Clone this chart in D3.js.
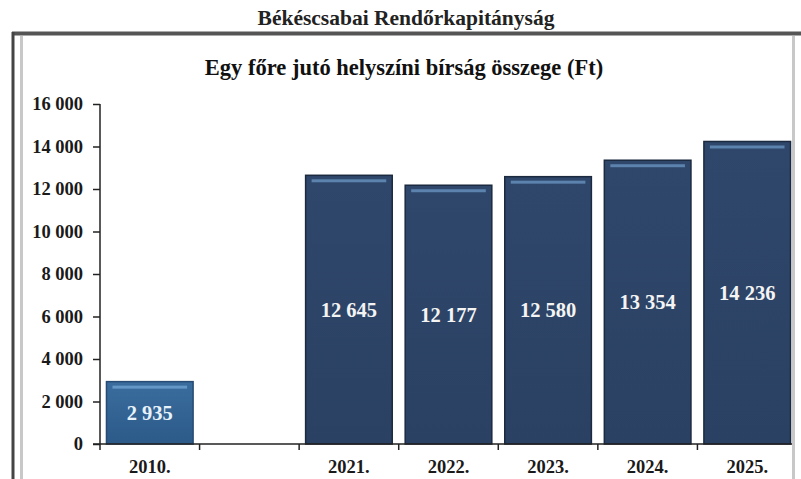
<!DOCTYPE html>
<html><head><meta charset="utf-8">
<script src="https://cdn.jsdelivr.net/npm/d3@7/dist/d3.min.js"></script>
<style>body{margin:0;background:#fff}svg{display:block}text{font-family:"Liberation Serif","Times New Roman",serif;font-weight:bold}</style>
</head><body>
<svg id="c" width="801" height="479"></svg>
<script>
const mainTitle = "Békéscsabai Rendőrkapitányság";
const chartTitle = "Egy főre jutó helyszíni bírság összege (Ft)";
const categories = ["2010.", "", "2021.", "2022.", "2023.", "2024.", "2025."];
const values = [2935, null, 12645, 12177, 12580, 13354, 14236];
const yTicks = [0, 2000, 4000, 6000, 8000, 10000, 12000, 14000, 16000];

const svg = d3.select("#c");
const fmt = v => d3.format(",")(v).replace(/,/g, " ");
const keys = categories.map((c, i) => i);

const x = d3.scaleBand().domain(keys).range([100, 797]).paddingInner(0.13).paddingOuter(0.065);
const y = d3.scaleLinear().domain([0, 16000]).range([444, 104]);

// frame
svg.append("rect").attr("x", 12).attr("y", 31.5).attr("width", 790).attr("height", 4).attr("fill", "#555");
svg.append("rect").attr("x", 11.5).attr("y", 32).attr("width", 3).attr("height", 447).attr("fill", "#444");
svg.append("rect").attr("x", 20).attr("y", 36).attr("width", 3).attr("height", 443).attr("fill", "#c8c8c8");
svg.append("rect").attr("x", 792).attr("y", 36).attr("width", 3).attr("height", 443).attr("fill", "#c8c8c8");

svg.append("text").attr("x", 406).attr("y", 25).attr("text-anchor", "middle").attr("font-size", 21.5).attr("fill", "#222").text(mainTitle);
svg.append("text").attr("x", 404).attr("y", 75).attr("text-anchor", "middle").attr("font-size", 22.5).attr("fill", "#111").text(chartTitle);

const defs = svg.append("defs");
const g1 = defs.append("linearGradient").attr("id", "gOld").attr("x1", 0).attr("x2", 0).attr("y1", 0).attr("y2", 1);
g1.append("stop").attr("offset", 0).attr("stop-color", "#3a6d9e");
g1.append("stop").attr("offset", 1).attr("stop-color", "#2c5a89");
const g2 = defs.append("linearGradient").attr("id", "gNew").attr("x1", 0).attr("x2", 0).attr("y1", 0).attr("y2", 1);
g2.append("stop").attr("offset", 0).attr("stop-color", "#2f476b");
g2.append("stop").attr("offset", 1).attr("stop-color", "#2a4163");

const data = keys.map(i => ({i, cat: categories[i], v: values[i]})).filter(d => d.v != null);

const bars = svg.append("g");
bars.selectAll("rect.bar").data(data).join("rect").attr("class", "bar")
  .attr("x", d => x(d.i)).attr("y", d => y(d.v))
  .attr("width", x.bandwidth()).attr("height", d => y(0) - y(d.v))
  .attr("fill", d => d.i === 0 ? "url(#gOld)" : "url(#gNew)")
  .attr("stroke", d => d.i === 0 ? "#274b73" : "#1c2a40").attr("stroke-width", 1.5);
bars.selectAll("rect.hl").data(data).join("rect").attr("class", "hl")
  .attr("x", d => x(d.i) + 6).attr("y", d => y(d.v) + 4)
  .attr("width", x.bandwidth() - 12).attr("height", 3)
  .attr("fill", d => d.i === 0 ? "#6a9ccb" : "#6189b5").attr("opacity", 0.9);
bars.selectAll("text").data(data).join("text")
  .attr("x", d => x(d.i) + x.bandwidth() / 2)
  .attr("y", d => (y(d.v) + y(0)) / 2 + 7)
  .attr("text-anchor", "middle").attr("font-size", 20.5)
  .attr("fill", d => d.i === 0 ? "#e8f2fa" : "#f4f4f4").text(d => fmt(d.v));

// y axis
const yAxis = d3.axisLeft(y).tickValues(yTicks).tickSize(7).tickPadding(10).tickFormat(fmt);
const ga = svg.append("g").attr("transform", "translate(100,0)").call(yAxis);
ga.select(".domain").attr("stroke", "#222").attr("stroke-width", 1.5).attr("d", "M0,104V444");
ga.selectAll(".tick line").attr("stroke", "#222").attr("stroke-width", 1.5);
ga.selectAll(".tick text").attr("font-size", 18.5).attr("fill", "#1a1a1a").attr("font-family", "Liberation Serif, serif").attr("font-weight", "bold");

// x axis
const step = x.step();
const xb = svg.append("g");
xb.append("line").attr("x1", 93).attr("x2", 792).attr("y1", 444).attr("y2", 444).attr("stroke", "#222").attr("stroke-width", 1.5);
const edges = keys.map(i => x(i) - x.paddingInner() * step / 2);
xb.selectAll("line.t").data(edges).join("line").attr("class", "t")
  .attr("x1", d => d).attr("x2", d => d).attr("y1", 444).attr("y2", 450)
  .attr("stroke", "#222").attr("stroke-width", 1.5);
xb.selectAll("text").data(keys).join("text")
  .attr("x", i => x(i) + x.bandwidth() / 2).attr("y", 473)
  .attr("text-anchor", "middle").attr("font-size", 18.5).attr("fill", "#1a1a1a")
  .text(i => categories[i]);
</script>
</body></html>
